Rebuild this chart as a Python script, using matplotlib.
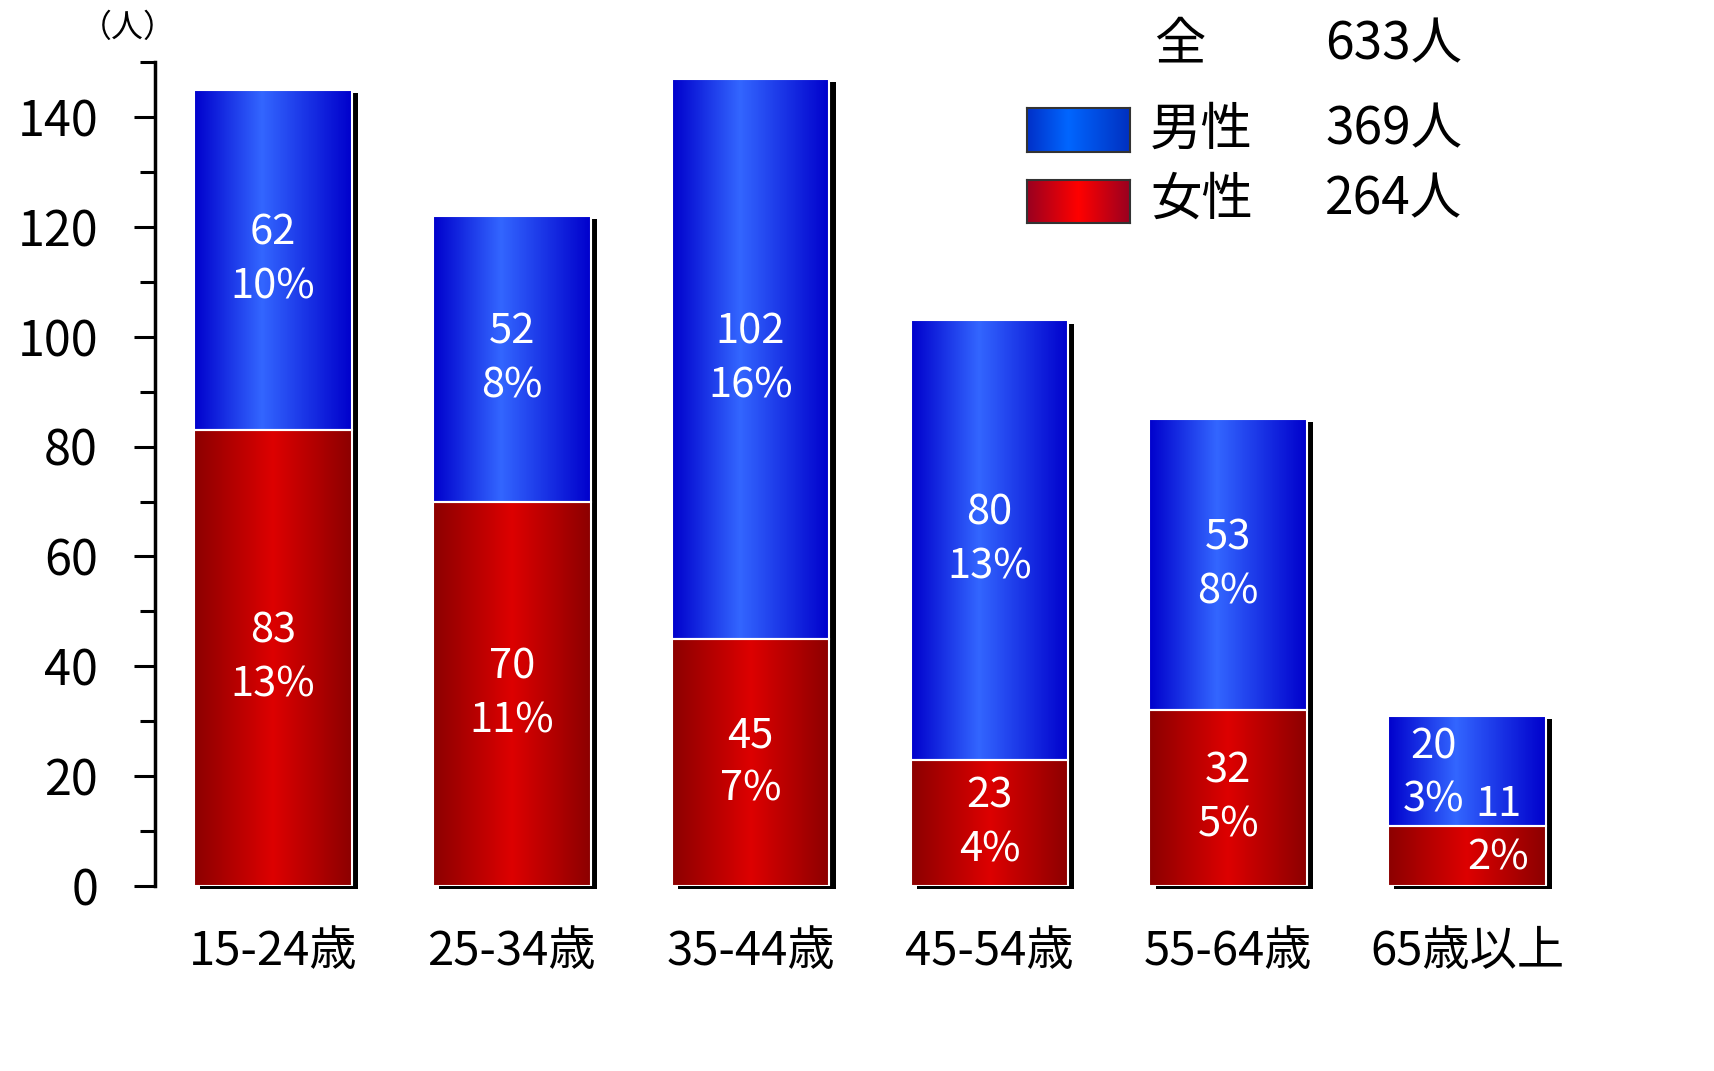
import numpy as np
import matplotlib
matplotlib.use("Agg")
import matplotlib.pyplot as plt
from matplotlib.colors import LinearSegmentedColormap
from matplotlib.patches import Rectangle

plt.rcParams['font.family'] = ['Noto Sans CJK JP', 'DejaVu Sans']

categories = ['15-24歳', '25-34歳', '35-44歳', '45-54歳', '55-64歳', '65歳以上']
female = [83, 70, 45, 23, 32, 11]
male = [62, 52, 102, 80, 53, 20]
female_pct = ['13%', '11%', '7%', '4%', '5%', '2%']
male_pct = ['10%', '8%', '16%', '13%', '8%', '3%']
totals = {'全': 633, '男性': 369, '女性': 264}

blue_cm = LinearSegmentedColormap.from_list('b', [(0, '#0000cc'), (0.43, '#3366ff'), (1, '#0000cc')])
red_cm = LinearSegmentedColormap.from_list('r', [(0, '#8c0000'), (0.5, '#dd0000'), (1, '#8c0000')])
leg_blue = LinearSegmentedColormap.from_list('lb', [(0, '#0030c8'), (0.4, '#0066ff'), (1, '#0030c0')])
leg_red = LinearSegmentedColormap.from_list('lr', [(0, '#990020'), (0.5, '#ff0000'), (1, '#990020')])
grad = np.linspace(0, 1, 256).reshape(1, -1)

fig = plt.figure(figsize=(17.15, 10.71), dpi=100)
ax = fig.add_axes([0.0904, 0.1727, 0.8346, 0.7693])

x = np.arange(len(categories))
w = 0.66


def grad_bar(ax, xc, bottom, height, cmap):
    x0, x1 = xc - w / 2, xc + w / 2
    ax.add_patch(Rectangle((x0 + 0.026, bottom - 0.6), w, height, facecolor='black',
                           edgecolor='none', zorder=1, clip_on=False))
    ax.imshow(grad, cmap=cmap, extent=(x0, x1, bottom, bottom + height),
              aspect='auto', zorder=2, interpolation='bicubic')
    ax.add_patch(Rectangle((x0, bottom), w, height, facecolor='none',
                           edgecolor='white', lw=1.5, zorder=3))


for i in range(len(categories)):
    grad_bar(ax, x[i], 0, female[i], red_cm)
    grad_bar(ax, x[i], female[i], male[i], blue_cm)

lab_kw = dict(color='white', fontsize=30, ha='center', va='center', linespacing=1.4, zorder=5)
for i in range(len(categories)):
    if i == len(categories) - 1:
        ax.text(x[i] - 0.14, female[i] + male[i] / 2 - 0.5, f'{male[i]}\n{male_pct[i]}', **lab_kw)
        ax.text(x[i] + 0.13, female[i] / 2 + 4.5, f'{female[i]}\n{female_pct[i]}', **lab_kw)
    else:
        ax.text(x[i], female[i] + male[i] / 2, f'{male[i]}\n{male_pct[i]}', **lab_kw)
        ax.text(x[i], female[i] / 2, f'{female[i]}\n{female_pct[i]}', **lab_kw)

ax.set_xlim(-0.494, 5.5)
ax.set_ylim(0, 150)
for s in ['top', 'right', 'bottom']:
    ax.spines[s].set_visible(False)
ax.spines['left'].set_linewidth(2.5)
ax.set_yticks(np.arange(0, 141, 20))
ax.set_yticks(np.arange(0, 151, 10), minor=True)
ax.tick_params(axis='y', which='major', length=15, width=2.2, labelsize=35, pad=26)
ax.tick_params(axis='y', which='minor', length=11, width=2.2)
ax.set_xticks(x)
ax.set_xticklabels(categories, fontsize=34)
ax.tick_params(axis='x', length=0, pad=30)

fig.text(128 / 1715, 1 - 28 / 1071, '（人）', fontsize=23, ha='center', va='center')

# legend block
lx0, lx1 = 1027 / 1715, 1130 / 1715
for (y0, y1), cm in [((152, 108), leg_blue), ((223, 180), leg_red)]:
    lax = fig.add_axes([lx0, 1 - y0 / 1071, lx1 - lx0, (y0 - y1) / 1071])
    lax.imshow(grad, cmap=cm, aspect='auto', interpolation='bicubic')
    lax.set_xticks([])
    lax.set_yticks([])
    for s in lax.spines.values():
        s.set_color('#333333')
        s.set_linewidth(1.5)

tk = dict(fontsize=37, va='center')
names = list(totals.keys())
ys = [45, 130, 200]
fig.text(1180 / 1715, 1 - ys[0] / 1071, names[0], ha='center', **tk)
for n, yy in zip(names[1:], ys[1:]):
    fig.text(1150 / 1715, 1 - yy / 1071, n, ha='left', **tk)
for n, yy in zip(names, ys):
    fig.text(1325 / 1715, 1 - yy / 1071, f'{totals[n]}人', ha='left', **tk)

fig.savefig('out.png', dpi=100)
